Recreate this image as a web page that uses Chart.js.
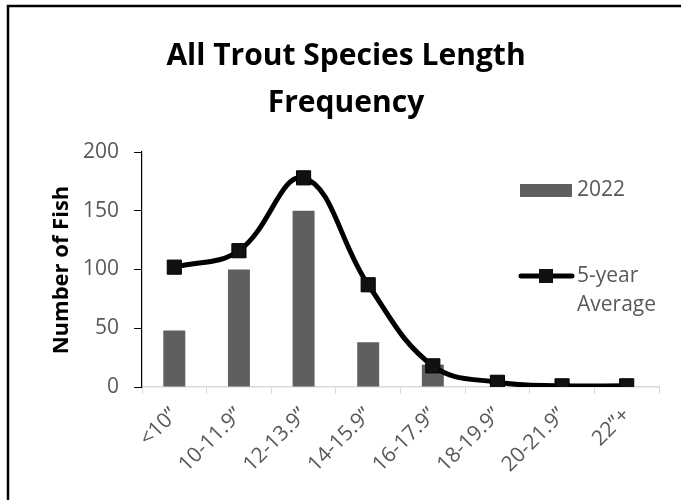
<!DOCTYPE html>
<html>
<head>
<meta charset="utf-8">
<script src="https://cdn.jsdelivr.net/npm/chart.js@4/dist/chart.umd.min.js"></script>
<style>
  html, body { margin: 0; padding: 0; background: #fff; }
  #wrap { position: relative; width: 681px; height: 500px; }
</style>
</head>
<body>
<div id="wrap"><canvas id="c" width="681" height="500"></canvas></div>
<script>
const titleLines = ["All Trout Species Length", "Frequency"];
const yAxisTitle = "Number of Fish";
const categories = ['<10”', '10-11.9”', '12-13.9”', '14-15.9”', '16-17.9”', '18-19.9”', '20-21.9”', '22”+'];
const counts2022 = [48, 100, 150, 38, 19, 0, 0, 0];
const fiveYearAverage = [102, 116, 178, 87, 18, 4, 1, 1];
const yTicks = [0, 50, 100, 150, 200];

const FONT = "'Open Sans', Lato, sans-serif";
const GRAY = '#595959';
const BAR = '#5f5f5f';

const decor = {
  id: 'decor',
  beforeDraw(chart) {
    const ctx = chart.ctx;
    ctx.save();
    ctx.fillStyle = '#fff';
    ctx.fillRect(0, 0, chart.width, chart.height);
    ctx.strokeStyle = '#000';
    ctx.lineWidth = 2.5;
    ctx.beginPath();
    ctx.moveTo(8, 500);
    ctx.lineTo(8, 6);
    ctx.lineTo(681, 6);
    ctx.stroke();
    ctx.restore();
  },
  afterDraw(chart) {
    const ctx = chart.ctx;
    ctx.save();
    // Title
    ctx.fillStyle = '#000';
    ctx.font = "bold 30px " + FONT;
    ctx.textAlign = 'center';
    ctx.textBaseline = 'alphabetic';
    ctx.fillText(titleLines[0], 346, 65);
    ctx.fillText(titleLines[1], 346, 112);
    // Y axis title
    ctx.save();
    ctx.translate(62, 270);
    ctx.rotate(-Math.PI / 2);
    ctx.textBaseline = 'middle';
    ctx.font = "bold 22px " + FONT;
    ctx.fillText(yAxisTitle, 0, 0);
    ctx.restore();
    // Legend
    const ds = chart.data.datasets;
    const barDs = ds.find(d => d.type === 'bar');
    const lineDs = ds.find(d => d.type === 'line');
    ctx.textBaseline = 'middle';
    ctx.fillStyle = BAR;
    ctx.fillRect(520, 184, 52, 13);
    ctx.font = "21px " + FONT;
    ctx.textAlign = 'left';
    ctx.fillStyle = GRAY;
    ctx.fillText(barDs.label, 577, 190);
    ctx.strokeStyle = '#000';
    ctx.lineWidth = 5;
    ctx.lineCap = 'round';
    ctx.beginPath();
    ctx.moveTo(521, 276);
    ctx.lineTo(572, 276);
    ctx.stroke();
    ctx.fillStyle = '#111';
    ctx.fillRect(539, 269, 14, 14);
    ctx.fillStyle = GRAY;
    const parts = lineDs.label.split(' ');
    ctx.fillText(parts[0], 577, 276);
    ctx.fillText(parts.slice(1).join(' '), 577, 305);
    ctx.restore();
  }
};

new Chart(document.getElementById('c'), {
  type: 'bar',
  data: {
    labels: categories,
    datasets: [
      {
        type: 'line',
        label: '5-year Average',
        data: fiveYearAverage,
        borderColor: '#000',
        backgroundColor: '#111',
        borderWidth: 5,
        tension: 0.4,
        cubicInterpolationMode: 'default',
        pointStyle: 'rect',
        pointRadius: 10,
        pointBorderWidth: 1,
        pointBorderColor: '#000',
        pointBackgroundColor: '#111',
        order: 0
      },
      {
        type: 'bar',
        label: '2022',
        data: counts2022,
        backgroundColor: BAR,
        categoryPercentage: 1,
        barPercentage: 0.34,
        order: 1
      }
    ]
  },
  options: {
    responsive: false,
    animation: false,
    layout: { padding: { top: 152, right: 22, left: 0, bottom: 0 } },
    plugins: {
      legend: { display: false },
      title: { display: false },
      tooltip: { enabled: false }
    },
    scales: {
      x: {
        grid: { drawOnChartArea: false, drawTicks: true, tickLength: 7, color: '#d9d9d9', offset: true },
        border: { color: '#d9d9d9', width: 1.5 },
        ticks: {
          color: GRAY,
          font: { family: FONT, size: 21 },
          maxRotation: 45,
          minRotation: 45,
          autoSkip: false,
          padding: 9
        },
        afterFit(scale) { scale.height = 113; }
      },
      y: {
        min: 0,
        max: 200,
        afterBuildTicks(scale) { scale.ticks = yTicks.map(v => ({ value: v })); },
        grid: { drawOnChartArea: false, drawTicks: true, tickLength: 8, color: '#000' },
        border: { color: '#000', width: 1.2 },
        ticks: {
          color: GRAY,
          font: { family: FONT, size: 21 },
          padding: 15
        },
        afterFit(scale) { scale.width = 142; }
      }
    }
  },
  plugins: [decor]
});
</script>
</body>
</html>
